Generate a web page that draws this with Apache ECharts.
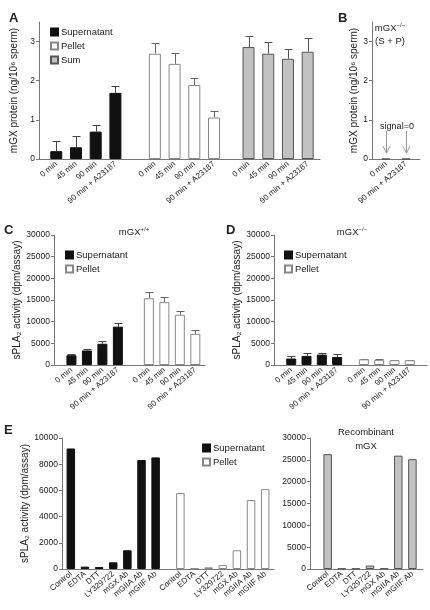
<!DOCTYPE html>
<html><head><meta charset="utf-8">
<script src="https://cdn.jsdelivr.net/npm/echarts@6/dist/echarts.min.js"></script>
<style>html,body{margin:0;padding:0;background:#fff}#c{width:430px;height:610px}</style>
</head><body><div id="c"></div>
<script>
// ---------------- data ----------------
const timeLabels = ['0 min', '45 min', '90 min', '90 min + A23187'];
const aSupernatant = [0.20, 0.30, 0.70, 1.69];
const aSupernatantErr = [0.27, 0.30, 0.18, 0.18];
const aPellet = [2.69, 2.43, 1.89, 1.06];
const aPelletErr = [0.28, 0.28, 0.18, 0.16];
const aSum = [2.86, 2.69, 2.56, 2.74];
const aSumErr = [0.28, 0.30, 0.25, 0.35];
const proteinTicks = [0, 1, 2, 3];

const bLabels = ['0 min', '90 min + A23187'];
const bValues = [0, 0];

const cSupernatant = [2250, 3350, 4900, 8850];
const cSupernatantErr = [300, 400, 600, 800];
const cPellet = [15400, 14500, 11600, 7200];
const cPelletErr = [1500, 1300, 900, 900];

const dSupernatant = [1500, 2100, 2400, 1850];
const dSupernatantErr = [500, 600, 400, 650];
const dPellet = [1300, 1200, 1100, 1100];
const dPelletErr = [150, 200, 100, 100];
const activityTicks = [0, 5000, 10000, 15000, 20000, 25000, 30000];
const eLeftTicks = [0, 2000, 4000, 6000, 8000, 10000];

const treatLabels = ['Control', 'EDTA', 'DTT', 'LY329722', 'mGX Ab', 'mGIIA Ab', 'mGIIF Ab'];
const eSupernatant = [9200, 180, 150, 510, 1430, 8320, 8520];
const ePellet = [5800, 50, 130, 300, 1430, 5270, 6090];
const eRecombinant = [26300, 100, 100, 800, 100, 25950, 25150];

// ---------------- layout ----------------
const FONT = '"Liberation Sans", Arial, sans-serif';
const TXT = '#222', AX = '#777';
// slot layout per panel: n = number of fine slots, starts = first slot of each group, step = slots between bars
const LAY = {
  A: {n: 57, starts: [3, 23, 42], step: 4, bw: 12, cap: 4},
  B: {n: 12, starts: [3], step: 5},
  C: {n: 39, starts: [4, 24], step: 4, bw: 10, cap: 4},
  D: {n: 40, starts: [4, 23], step: 4, bw: 10, cap: 4},
  E: {n: 60, starts: [2, 33], step: 4, bw: 8.5},
  R: {n: 16, starts: [2], step: 2, bw: 8.5}
};
function idxs(lay, g, count) {
  const out = [];
  for (let i = 0; i < count; i++) out.push(lay.starts[g] + i * lay.step);
  return out;
}
function cats(lay, labels, groups) {
  const c = new Array(lay.n).fill('');
  for (let g = 0; g < groups; g++) idxs(lay, g, labels.length).forEach((k, i) => c[k] = labels[i]);
  // make every category distinct (invisible padding)
  return c.map((v, i) => v === '' ? ' '.repeat(i + 1) : v + '\u200b'.repeat(i));
}
function barData(lay, g, values) {
  const d = new Array(lay.n).fill('-');
  idxs(lay, g, values.length).forEach((k, i) => d[k] = values[i]);
  return d;
}
function errData(lay, g, values, errs) {
  return idxs(lay, g, values.length).map((k, i) => [k, values[i], errs[i]]);
}
function errRender(half, color) {
  return function (params, api) {
    const x = api.value(0), v = api.value(1), e = api.value(2);
    const p0 = api.coord([x, v]), p1 = api.coord([x, v + e]);
    const cx = Math.round(p0[0]) + 0.5, y1 = Math.round(p1[1]) + 0.5;
    return {type: 'group', children: [
      {type: 'line', shape: {x1: cx, y1: p0[1], x2: cx, y2: y1}, style: {stroke: color, lineWidth: 1}},
      {type: 'line', shape: {x1: cx - half, y1: y1, x2: cx + half, y2: y1}, style: {stroke: color, lineWidth: 1}}
    ]};
  };
}
const STY = {
  black: {color: '#111', borderColor: '#111', borderWidth: 1},
  white: {color: '#fff', borderColor: '#888', borderWidth: 1},
  grey: {color: '#c2c2c2', borderColor: '#555', borderWidth: 1}
};
function xAxis(gi, lay, labels, groups) {
  return {
    type: 'category', gridIndex: gi, data: cats(lay, labels, groups),
    axisLine: {lineStyle: {color: AX, width: 1}},
    axisTick: {alignWithLabel: true, length: 3, lineStyle: {color: AX},
      interval: (i, v) => v.trim() !== ''},
    axisLabel: {interval: 0, rotate: 40, margin: 4, fontSize: 8, color: TXT, fontFamily: FONT,
      formatter: v => v.replace(/\u200b/g, '').trim()}
  };
}
function yAxis(gi, max, ticks, name, nameGap) {
  return {
    type: 'value', gridIndex: gi, min: 0, max: max,
    name: name, nameLocation: 'middle', nameGap: nameGap,
    nameTextStyle: {fontSize: 10, color: TXT, fontFamily: FONT},
    axisLine: {show: true, lineStyle: {color: AX, width: 1}},
    axisTick: {show: true, length: 3, lineStyle: {color: AX}, customValues: ticks},
    axisLabel: {fontSize: 8.5, color: TXT, fontFamily: FONT, margin: 4, customValues: ticks,
      formatter: v => String(v)},
    splitLine: {show: false}
  };
}
function bar(name, gi, lay, g, values, sty, bw) {
  return {type: 'bar', name: name, xAxisIndex: gi, yAxisIndex: gi, data: barData(lay, g, values),
    barWidth: bw, barGap: '-100%', itemStyle: sty, silent: true, animation: false};
}
function err(gi, lay, g, values, errs, color) {
  return {type: 'custom', xAxisIndex: gi, yAxisIndex: gi, data: errData(lay, g, values, errs),
    encode: {x: 0, y: 1}, renderItem: errRender(lay.cap, color), silent: true, animation: false, z: 1};
}
function legend(names, left, top) {
  return {data: names, orient: 'vertical', left: left, top: top, itemWidth: 7, itemHeight: 7, itemGap: 4,
    icon: 'rect', selectedMode: false, padding: 0,
    textStyle: {fontSize: 9.5, color: TXT, fontFamily: FONT, padding: [0, 0, 0, -2]}};
}
function text(str, x, y, size, bold, align) {
  return {type: 'text', x: x, y: y,
    style: {text: str, fontSize: size, fontWeight: bold ? 'bold' : 'normal', fill: TXT, fontFamily: FONT,
      align: align || 'left', verticalAlign: 'top'}};
}
function richText(main, sup, cx, top) {
  return {type: 'text', x: cx, y: top,
    style: {text: '{m|' + main + '}{s|' + sup + '}', align: 'center', verticalAlign: 'top', fill: TXT, fontFamily: FONT,
      rich: {m: {fontSize: 9.5, fontFamily: FONT, fill: TXT, lineHeight: 14},
             s: {fontSize: 6, fontFamily: FONT, fill: TXT, lineHeight: 14, padding: [0, 0, 6, 0]}}}};
}

// arrows in panel B (annotation range, in axis units)
const ARROW_TOP = 0.72, ARROW_TIP = 0.15;
function arrowRender(params, api) {
  const x = api.value(0);
  const p0 = api.coord([x, ARROW_TOP]), p1 = api.coord([x, ARROW_TIP]);
  const cx = Math.round(p0[0]) + 0.5;
  const st = {stroke: '#999', lineWidth: 1, fill: null};
  return {type: 'group', children: [
    {type: 'line', shape: {x1: cx, y1: p0[1], x2: cx, y2: p1[1]}, style: st},
    {type: 'polyline', shape: {points: [[cx - 3.5, p1[1] - 7], [cx, p1[1]], [cx + 3.5, p1[1] - 7]]}, style: st}
  ]};
}

const G = [
  {left: 39, top: 22, width: 281, height: 137},   // A
  {left: 372, top: 22, width: 48, height: 137},   // B
  {left: 54, top: 235, width: 151, height: 130},  // C
  {left: 274, top: 235, width: 153, height: 130}, // D
  {left: 62, top: 438, width: 212, height: 131},  // E left
  {left: 310, top: 438, width: 113, height: 131}  // E right
];

const protName = 'mGX protein (ng/10\u2076 sperm)';
const actName = 'sPLA\u2082 activity (dpm/assay)';

const option = {
  animation: false,
  backgroundColor: '#fff',
  textStyle: {fontFamily: FONT},
  grid: G.map(g => Object.assign({containLabel: false}, g)),
  xAxis: [
    xAxis(0, LAY.A, timeLabels, 3),
    xAxis(1, LAY.B, bLabels, 1),
    xAxis(2, LAY.C, timeLabels, 2),
    xAxis(3, LAY.D, timeLabels, 2),
    xAxis(4, LAY.E, treatLabels, 2),
    xAxis(5, LAY.R, treatLabels, 1)
  ],
  yAxis: [
    yAxis(0, 3.5, proteinTicks, protName, 13),
    yAxis(1, 3.5, proteinTicks, protName, 12),
    yAxis(2, 30000, activityTicks, actName, 29),
    yAxis(3, 30000, activityTicks, actName, 29),
    yAxis(4, 10000, eLeftTicks, actName, 32),
    yAxis(5, 30000, activityTicks, '', 0)
  ],
  legend: [
    legend(['Supernatant', 'Pellet', 'Sum'], 50, 27),
    legend(['Supernatant', 'Pellet'], 65, 250),
    legend(['Supernatant', 'Pellet'], 284, 250),
    legend(['Supernatant', 'Pellet'], 202, 443)
  ],
  series: [
    bar('Supernatant', 0, LAY.A, 0, aSupernatant, STY.black, LAY.A.bw),
    bar('Pellet', 0, LAY.A, 1, aPellet, STY.white, LAY.A.bw),
    bar('Sum', 0, LAY.A, 2, aSum, STY.grey, LAY.A.bw),
    err(0, LAY.A, 0, aSupernatant, aSupernatantErr, '#444'),
    err(0, LAY.A, 1, aPellet, aPelletErr, '#666'),
    err(0, LAY.A, 2, aSum, aSumErr, '#555'),

    bar('B', 1, LAY.B, 0, bValues, STY.grey, 8),
    {type: 'custom', xAxisIndex: 1, yAxisIndex: 1, data: idxs(LAY.B, 0, bLabels.length).map(k => [k, 0]),
      encode: {x: 0, y: 1}, renderItem: arrowRender, silent: true},

    bar('Supernatant', 2, LAY.C, 0, cSupernatant, STY.black, LAY.C.bw),
    bar('Pellet', 2, LAY.C, 1, cPellet, STY.white, LAY.C.bw),
    err(2, LAY.C, 0, cSupernatant, cSupernatantErr, '#444'),
    err(2, LAY.C, 1, cPellet, cPelletErr, '#666'),

    bar('Supernatant', 3, LAY.D, 0, dSupernatant, STY.black, LAY.D.bw),
    bar('Pellet', 3, LAY.D, 1, dPellet, STY.white, LAY.D.bw),
    err(3, LAY.D, 0, dSupernatant, dSupernatantErr, '#444'),
    err(3, LAY.D, 1, dPellet, dPelletErr, '#666'),

    bar('Supernatant', 4, LAY.E, 0, eSupernatant, STY.black, LAY.E.bw),
    bar('Pellet', 4, LAY.E, 1, ePellet, STY.white, LAY.E.bw),
    bar('Recombinant', 5, LAY.R, 0, eRecombinant, STY.grey, LAY.R.bw)
  ],
  graphic: [
    text('A', 9, 12, 13, true),
    text('B', 338, 12, 13, true),
    text('C', 4, 224, 13, true),
    text('D', 226, 224, 13, true),
    text('E', 4, 424, 13, true),
    richText('mGX', '+/+', 134, 225),
    richText('mGX', '\u2212/\u2212', 352, 225),
    richText('mGX', '\u2212/\u2212', 390, 21),
    text('(S + P)', 390, 36, 9.5, false, 'center'),
    text('signal=0', 397, 122, 9, false, 'center'),
    text('Recombinant', 366, 427, 9.5, false, 'center'),
    text('mGX', 366, 441, 9.5, false, 'center')
  ]
};
echarts.init(document.getElementById('c'), null, {renderer: 'canvas'}).setOption(option);
</script>
</body></html>
